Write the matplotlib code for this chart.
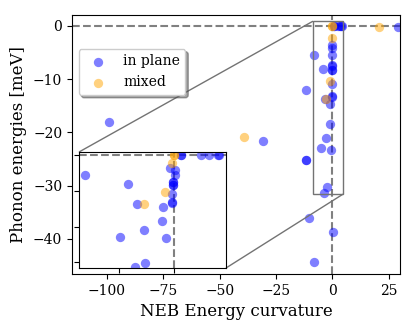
import matplotlib
matplotlib.use("Agg")
import matplotlib.pyplot as plt
from mpl_toolkits.axes_grid1.inset_locator import mark_inset

plt.rcParams['font.family'] = ['DejaVu Serif']

# in-plane modes: (NEB curvature, phonon energy)
inplane_x = [-99.1, -30.8, -11.6, -11.6, -11.5, -10.5, 0.1, -8.1, 29.0,
             -8.1, -4.2, -3.35, 0.65, 0.65, 2.45, 3.2, 3.95, 4.1,
             -0.35, 0.05, 0.05, -0.1, -0.1, -0.1, -0.1, -0.16, -0.2, -0.2,
             -1.0, -1.05, -0.75, -2.7, -4.9, -2.6, -3.5]
inplane_y = [-17.95, -21.7, -25.2, -25.1, -12.1, -36.1, -38.8, -44.3, -0.25,
             -5.4, -8.0, -13.8, 0.0, 0.0, 0.0, 0.0, 0.0, 0.0,
             -3.6, -4.1, -5.5, -7.4, -7.5, -8.3, -8.2, -10.9, -13.2, -13.3,
             -14.6, -18.5, -23.3, -21.0, -23.0, -30.3, -31.3]
# mixed modes
mixed_x = [-39.1, 20.8, 0.0, 0.0, -0.15, -0.85, -2.7]
mixed_y = [-20.9, -0.1, 0.0, 0.0, -2.2, -10.3, -13.8]

fig = plt.figure(figsize=(4.15, 3.32), dpi=100)
ax = fig.add_axes([0.1735, 0.1747, 0.7904, 0.7801])

def draw(a):
    a.axhline(0, color='gray', ls='--', zorder=0)
    a.axvline(0, color='gray', ls='--', zorder=0)
    a.scatter(inplane_x, inplane_y, color='blue', alpha=0.5, s=45,
              linewidths=0, label='in plane')
    a.scatter(mixed_x, mixed_y, color='orange', alpha=0.5, s=45,
              linewidths=0, label='mixed')

draw(ax)
ax.set_xlim(-115.5, 30)
ax.set_ylim(-46.6, 2.06)
ax.set_xticks([-100, -75, -50, -25, 0, 25])
ax.set_yticks([-40, -30, -20, -10, 0])
ax.tick_params(labelsize=10)
ax.set_xlabel('NEB Energy curvature', fontsize=12)
ax.set_ylabel('Phonon energies [meV]', fontsize=12)
ax.legend(loc='upper left', bbox_to_anchor=(0.02, 0.869), borderaxespad=0,
          shadow=True, fontsize=10)

axins = ax.inset_axes([0.0213, 0.023, 0.448, 0.448])
draw(axins)
axins.set_xlim(-8.6, 4.7)
axins.set_ylim(-31.6, 0.9)
axins.set_xticks([-5, 0])
axins.set_yticks([-30, -20, -10, 0])
axins.set_xticklabels([])
axins.set_yticklabels([])
mark_inset(ax, axins, loc1=2, loc2=4, fc='none', ec='0.45')

fig.savefig('out.png', dpi=100)
